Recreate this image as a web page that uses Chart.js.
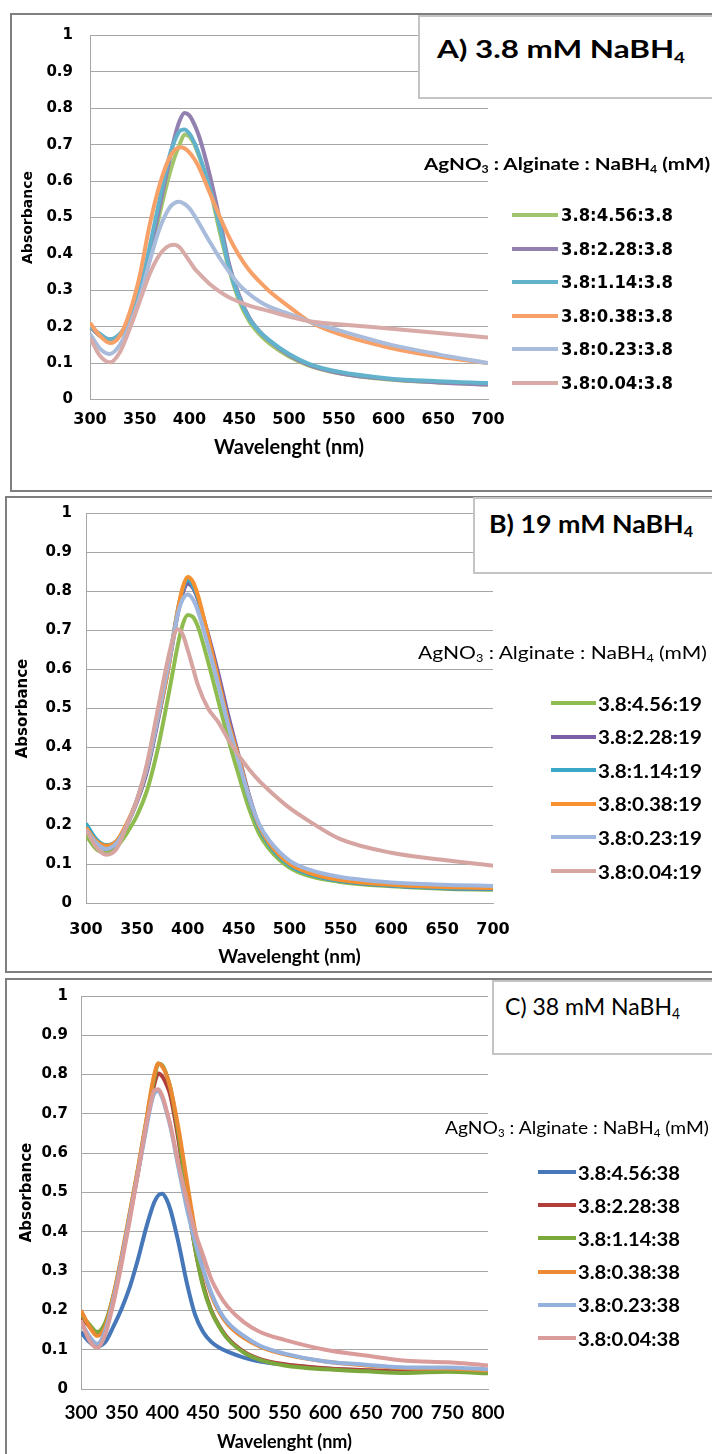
<!DOCTYPE html>
<html>
<head>
<meta charset="utf-8">
<title>Absorbance spectra of Ag / alginate</title>
<script src="https://cdn.jsdelivr.net/npm/chart.js@4.4.1/dist/chart.umd.min.js"></script>
<style>
  html, body { margin: 0; padding: 0; background: #fff; }
  body { position: relative; width: 712px; height: 1454px; overflow: hidden; }
  .frame { position: absolute; border: 2px solid #7f7f7f; box-sizing: border-box; }
  canvas { position: absolute; left: 0; }
  .box { position: absolute; background: #fff; border: 2px solid #c4c4c4; box-sizing: border-box; }
  .label { position: absolute; white-space: nowrap; line-height: 1; color: #000; transform-origin: 0 50%; }
  .label sub { font-size: 0.6em; vertical-align: -0.3em; line-height: 0; }
  .swatch { position: absolute; }
</style>
</head>
<body>
<div class="frame" style="left:10px;top:13px;width:704px;height:479px"></div>
<div class="frame" style="left:5px;top:496px;width:709px;height:477px"></div>
<div class="frame" style="left:5px;top:978px;width:709px;height:480px"></div>
<canvas id="chartA" width="712" height="490" style="top:0"></canvas>
<canvas id="chartB" width="712" height="482" style="top:490px"></canvas>
<canvas id="chartC" width="712" height="482" style="top:972px"></canvas>
<div class="box" style="left:418px;top:15px;width:296px;height:84px"></div>
<div class="box" style="left:473px;top:497px;width:241px;height:77px"></div>
<div class="box" style="left:492px;top:980px;width:222px;height:75px"></div>
<div id="texts"></div>
<script>
// --- data ---
const wavelengthA = [300, 310, 320, 330, 340, 350, 360, 370, 380, 385, 390, 395, 400, 405, 410, 420, 430, 440, 450, 460, 470, 480, 500, 520, 550, 600, 650, 700];
const labelsA = ["3.8:4.56:3.8", "3.8:2.28:3.8", "3.8:1.14:3.8", "3.8:0.38:3.8", "3.8:0.23:3.8", "3.8:0.04:3.8"];
const absA456 = [0.20, 0.175, 0.165, 0.175, 0.21, 0.28, 0.39, 0.51, 0.62, 0.665, 0.70, 0.728, 0.722, 0.70, 0.665, 0.585, 0.465, 0.355, 0.27, 0.215, 0.18, 0.155, 0.118, 0.093, 0.072, 0.055, 0.047, 0.041];
const absA228 = [0.20, 0.175, 0.165, 0.178, 0.215, 0.29, 0.40, 0.53, 0.66, 0.72, 0.765, 0.787, 0.78, 0.755, 0.72, 0.62, 0.50, 0.37, 0.285, 0.225, 0.188, 0.162, 0.122, 0.095, 0.073, 0.056, 0.047, 0.041];
const absA114 = [0.20, 0.18, 0.165, 0.18, 0.22, 0.30, 0.42, 0.55, 0.67, 0.71, 0.737, 0.742, 0.73, 0.705, 0.67, 0.585, 0.48, 0.36, 0.278, 0.222, 0.188, 0.163, 0.125, 0.098, 0.076, 0.058, 0.050, 0.045];
const absA038 = [0.21, 0.175, 0.155, 0.175, 0.24, 0.34, 0.48, 0.59, 0.665, 0.685, 0.693, 0.69, 0.678, 0.66, 0.635, 0.57, 0.505, 0.445, 0.395, 0.355, 0.325, 0.298, 0.255, 0.215, 0.18, 0.143, 0.118, 0.10];
const absA023 = [0.18, 0.14, 0.125, 0.15, 0.205, 0.28, 0.38, 0.47, 0.527, 0.54, 0.543, 0.537, 0.525, 0.505, 0.482, 0.435, 0.39, 0.35, 0.315, 0.29, 0.27, 0.255, 0.235, 0.215, 0.19, 0.152, 0.124, 0.10];
const absA004 = [0.17, 0.12, 0.102, 0.13, 0.195, 0.27, 0.345, 0.398, 0.423, 0.425, 0.418, 0.40, 0.38, 0.36, 0.345, 0.318, 0.297, 0.28, 0.268, 0.258, 0.25, 0.243, 0.228, 0.215, 0.207, 0.195, 0.183, 0.17];

const wavelengthB = [300, 310, 320, 330, 340, 350, 360, 370, 380, 385, 390, 395, 400, 405, 410, 420, 430, 440, 450, 460, 470, 480, 500, 520, 550, 600, 650, 700];
const labelsB = ["3.8:4.56:19", "3.8:2.28:19", "3.8:1.14:19", "3.8:0.38:19", "3.8:0.23:19", "3.8:0.04:19"];
const absB456 = [0.175, 0.14, 0.13, 0.145, 0.18, 0.225, 0.29, 0.39, 0.52, 0.59, 0.66, 0.715, 0.74, 0.735, 0.71, 0.62, 0.52, 0.42, 0.33, 0.245, 0.18, 0.14, 0.092, 0.07, 0.055, 0.044, 0.038, 0.035];
const absB228 = [0.19, 0.155, 0.14, 0.155, 0.2, 0.26, 0.34, 0.46, 0.59, 0.665, 0.74, 0.795, 0.82, 0.81, 0.78, 0.69, 0.59, 0.48, 0.38, 0.28, 0.2, 0.155, 0.1, 0.076, 0.058, 0.046, 0.04, 0.037];
const absB114 = [0.205, 0.165, 0.15, 0.16, 0.2, 0.265, 0.35, 0.47, 0.6, 0.675, 0.75, 0.805, 0.83, 0.815, 0.785, 0.68, 0.57, 0.46, 0.37, 0.27, 0.195, 0.15, 0.098, 0.075, 0.058, 0.046, 0.04, 0.038];
const absB038 = [0.195, 0.16, 0.148, 0.16, 0.205, 0.265, 0.35, 0.47, 0.59, 0.67, 0.75, 0.81, 0.837, 0.825, 0.79, 0.685, 0.575, 0.465, 0.375, 0.275, 0.2, 0.155, 0.102, 0.078, 0.06, 0.048, 0.042, 0.04];
const absB023 = [0.19, 0.155, 0.14, 0.155, 0.2, 0.265, 0.35, 0.47, 0.6, 0.67, 0.74, 0.78, 0.792, 0.78, 0.75, 0.66, 0.56, 0.455, 0.365, 0.275, 0.205, 0.162, 0.11, 0.086, 0.068, 0.054, 0.048, 0.045];
const absB004 = [0.19, 0.145, 0.125, 0.14, 0.2, 0.265, 0.36, 0.49, 0.62, 0.675, 0.703, 0.69, 0.65, 0.605, 0.56, 0.50, 0.465, 0.42, 0.38, 0.345, 0.315, 0.29, 0.245, 0.21, 0.165, 0.13, 0.112, 0.097];

const wavelengthC = [300, 310, 320, 330, 340, 350, 360, 370, 380, 385, 390, 395, 400, 405, 410, 420, 430, 440, 450, 460, 470, 480, 500, 520, 550, 600, 650, 700, 750, 800];
const labelsC = ["3.8:4.56:38", "3.8:2.28:38", "3.8:1.14:38", "3.8:0.38:38", "3.8:0.23:38", "3.8:0.04:38"];
const absC456 = [0.145, 0.12, 0.108, 0.12, 0.16, 0.205, 0.26, 0.33, 0.41, 0.445, 0.475, 0.493, 0.497, 0.483, 0.455, 0.37, 0.27, 0.19, 0.145, 0.12, 0.105, 0.095, 0.08, 0.07, 0.062, 0.052, 0.047, 0.045, 0.048, 0.045];
const absC228 = [0.185, 0.16, 0.14, 0.165, 0.235, 0.33, 0.44, 0.55, 0.67, 0.725, 0.775, 0.803, 0.795, 0.775, 0.745, 0.63, 0.49, 0.36, 0.265, 0.2, 0.16, 0.13, 0.095, 0.076, 0.063, 0.053, 0.048, 0.045, 0.047, 0.043];
const absC114 = [0.19, 0.165, 0.145, 0.17, 0.24, 0.335, 0.445, 0.56, 0.68, 0.74, 0.79, 0.828, 0.823, 0.80, 0.765, 0.645, 0.495, 0.36, 0.26, 0.198, 0.158, 0.128, 0.093, 0.074, 0.06, 0.05, 0.045, 0.041, 0.044, 0.04];
const absC038 = [0.2, 0.16, 0.135, 0.16, 0.24, 0.34, 0.45, 0.56, 0.68, 0.745, 0.80, 0.828, 0.82, 0.80, 0.765, 0.66, 0.53, 0.405, 0.305, 0.24, 0.195, 0.165, 0.13, 0.108, 0.088, 0.07, 0.06, 0.053, 0.052, 0.047];
const absC023 = [0.17, 0.135, 0.115, 0.15, 0.23, 0.33, 0.44, 0.55, 0.66, 0.715, 0.752, 0.758, 0.74, 0.705, 0.665, 0.56, 0.46, 0.375, 0.305, 0.245, 0.2, 0.17, 0.135, 0.11, 0.09, 0.07, 0.062, 0.055, 0.055, 0.05];
const absC004 = [0.175, 0.125, 0.105, 0.14, 0.22, 0.32, 0.43, 0.55, 0.67, 0.72, 0.76, 0.763, 0.745, 0.71, 0.67, 0.57, 0.48, 0.4, 0.34, 0.28, 0.24, 0.21, 0.17, 0.145, 0.125, 0.1, 0.085, 0.072, 0.068, 0.06];

const colorsA = ["#a2c46c", "#9280b0", "#62b2cc", "#f7a068", "#a9bcdb", "#d8aba8"];
const colorsB = ["#8fbc4f", "#7b5ea6", "#3aa7c6", "#f7902f", "#9fb6de", "#d6a4a1"];
const colorsC = ["#4677b8", "#b23e3b", "#7aa83c", "#ec8a33", "#93b1dc", "#d99c9b"];

Chart.defaults.font.family = "'DejaVu Sans', sans-serif";
Chart.defaults.color = "#000";

const gridColor = "#a6a6a6";

function makeChart(id, p) {
  const ctx = document.getElementById(id).getContext("2d");
  return new Chart(ctx, {
    type: "line",
    data: {
      datasets: p.series.map((vals, i) => ({
        label: p.labels[i],
        data: p.x.map((w, j) => ({ x: w, y: vals[j] })),
        borderColor: p.colors[i],
        borderWidth: p.lineWidth,
        pointRadius: 0,
        fill: false,
        cubicInterpolationMode: "monotone",
        order: p.series.length - i,
      })),
    },
    options: {
      responsive: false,
      animation: false,
      devicePixelRatio: 1,
      layout: { padding: p.pad },
      plugins: { legend: { display: false }, tooltip: { enabled: false } },
      scales: {
        x: {
          type: "linear",
          min: p.x[0],
          max: p.x[p.x.length - 1],
          ticks: { stepSize: 50, autoSkip: false, maxRotation: 0, padding: p.xTickPad, font: p.xTickFont },
          grid: { drawOnChartArea: false, drawTicks: false },
          border: { color: gridColor, width: 1 },
          title: { display: true, text: "Wavelenght (nm)", font: p.xTitleFont, padding: { top: 0, bottom: p.xTitlePad } },
          afterFit: (s) => { s.height = p.xHeight; },
        },
        y: {
          min: 0,
          max: 1,
          ticks: {
            stepSize: 0.1,
            padding: p.yTickPad,
            font: { weight: "bold", size: 15 },
            callback: (v) => String(Math.round(v * 10) / 10),
          },
          grid: { color: gridColor, lineWidth: 1, drawTicks: false },
          border: { color: gridColor, width: 1 },
          title: { display: true, text: "Absorbance", font: p.yTitleFont, padding: { top: p.yTitlePad, bottom: 0 } },
          afterFit: (s) => { s.width = p.yWidth; },
        },
      },
    },
  });
}

makeChart("chartA", {
  x: wavelengthA,
  series: [absA456, absA228, absA114, absA038, absA023, absA004],
  labels: labelsA, colors: colorsA, lineWidth: 4,
  pad: { left: 0, top: 35.5, right: 224, bottom: 0 },
  xHeight: 90.5, xTickPad: 11, xTickFont: { weight: "bold", size: 16 },
  xTitleFont: { family: "Lato", weight: "bold", size: 20 }, xTitlePad: 30,
  yWidth: 90, yTickPad: 17,
  yTitleFont: { weight: "bold", size: 14 }, yTitlePad: 19.6,
});

makeChart("chartB", {
  x: wavelengthB,
  series: [absB456, absB228, absB114, absB038, absB023, absB004],
  labels: labelsB, colors: colorsB, lineWidth: 4,
  pad: { left: 0, top: 23.5, right: 219, bottom: 0 },
  xHeight: 68.5, xTickPad: 17, xTickFont: { weight: "bold", size: 16 },
  xTitleFont: { family: "Lato", weight: "bold", size: 19 }, xTitlePad: 3.6,
  yWidth: 86, yTickPad: 14,
  yTitleFont: { weight: "bold", size: 15 }, yTitlePad: 14,
});

makeChart("chartC", {
  x: wavelengthC,
  series: [absC456, absC228, absC114, absC038, absC023, absC004],
  labels: labelsC, colors: colorsC, lineWidth: 4,
  pad: { left: 0, top: 24, right: 224, bottom: 0 },
  xHeight: 65, xTickPad: 12.6, xTickFont: { family: "Lato", weight: "bold", size: 19 },
  xTitleFont: { family: "Lato", weight: "bold", size: 18 }, xTitlePad: 1.2,
  yWidth: 81, yTickPad: 13,
  yTitleFont: { weight: "bold", size: 15 }, yTitlePad: 18,
});

// --- titles and legends as html text ---
const texts = document.getElementById("texts");

function addText(html, left, cy, font, width, scale) {
  const el = document.createElement("div");
  el.className = "label";
  el.style.font = font;
  el.innerHTML = html;
  texts.appendChild(el);
  const r = el.getBoundingClientRect();
  const sx = width ? width / r.width : (scale || 1);
  el.style.left = left + "px";
  el.style.top = (cy - r.height / 2) + "px";
  el.style.transform = "scaleX(" + sx.toFixed(3) + ")";
  return sx;
}

function addLegend(labels, colors, o) {
  let sx = null;
  labels.forEach((lab, i) => {
    const cy = o.y0 + i * o.dy;
    const sw = document.createElement("div");
    sw.className = "swatch";
    sw.style.left = o.x1 + "px";
    sw.style.width = (o.x2 - o.x1) + "px";
    sw.style.top = (cy - o.lw / 2) + "px";
    sw.style.height = o.lw + "px";
    sw.style.background = colors[i];
    texts.appendChild(sw);
    if (sx === null) sx = addText(lab, o.tx, cy, o.font, o.tw);
    else addText(lab, o.tx, cy, o.font, 0, sx);
  });
}

addText("A) 3.8 mM NaBH<sub>4</sub>", 437, 48, "bold 25px Lato", 248);
addText("B) 19 mM NaBH<sub>4</sub>", 489, 523, "bold 24px Lato", 204);
addText("C) 38 mM NaBH<sub>4</sub>", 505, 1005, "24px Lato", 175);

addText("AgNO<sub>3</sub> : Alginate : NaBH<sub>4</sub> (mM)", 424, 163, "bold 17.5px Lato", 286);
addText("AgNO<sub>3</sub> : Alginate : NaBH<sub>4</sub> (mM)", 418, 652, "17.5px Lato", 289);
addText("AgNO<sub>3</sub> : Alginate : NaBH<sub>4</sub> (mM)", 445, 1127, "17.5px Lato", 264);

addLegend(labelsA, colorsA, { x1: 512, x2: 558, tx: 561, tw: 112, y0: 215, dy: 33.5, lw: 4, font: "bold 17px 'DejaVu Sans'" });
addLegend(labelsB, colorsB, { x1: 551, x2: 596, tx: 598, tw: 104, y0: 703, dy: 33.6, lw: 4, font: "bold 19px Lato" });
addLegend(labelsC, colorsC, { x1: 538, x2: 576, tx: 578, tw: 102, y0: 1172, dy: 33.2, lw: 4, font: "bold 19px Lato" });
</script>
</body>
</html>
